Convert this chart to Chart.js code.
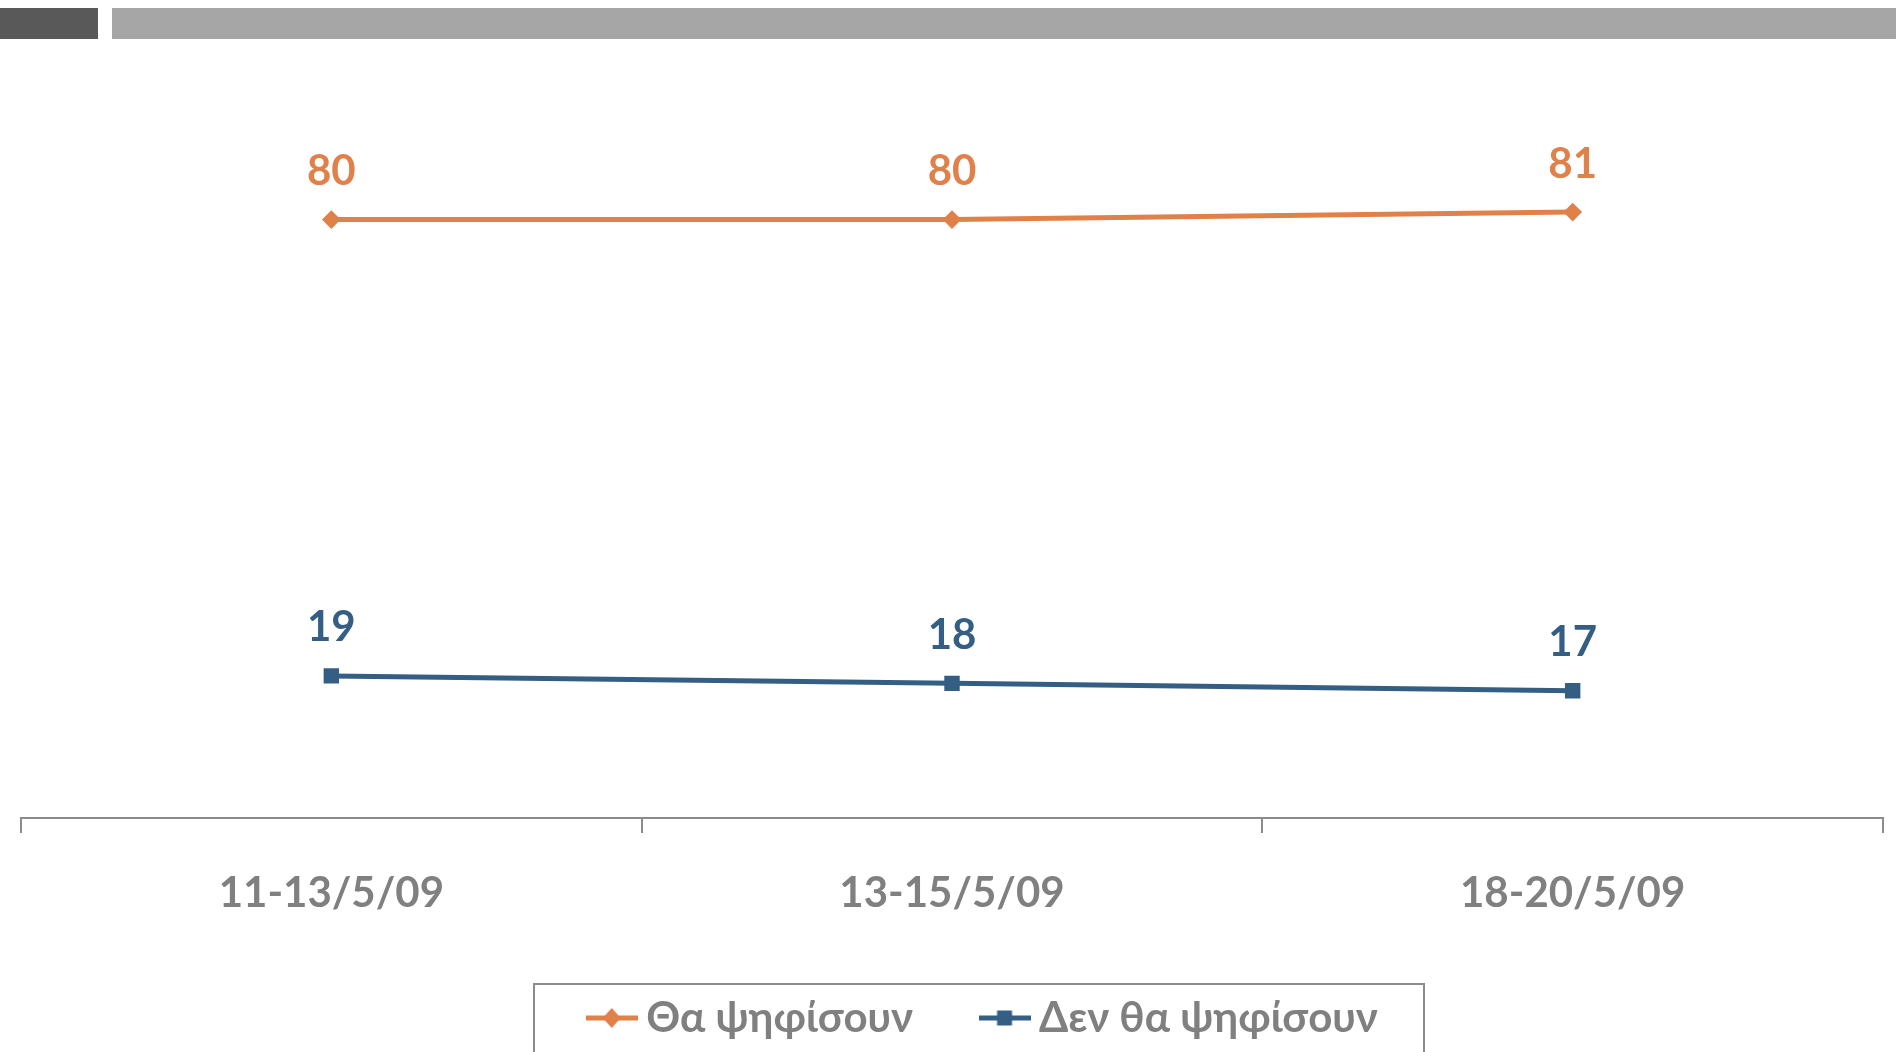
<!DOCTYPE html>
<html>
<head>
<meta charset="utf-8">
<script src="https://cdn.jsdelivr.net/npm/chart.js@4"></script>
<style>
  html, body { margin: 0; padding: 0; background: #fff; }
  #wrap { width: 1896px; height: 1052px; position: relative; }
</style>
</head>
<body>
<div id="wrap"><canvas id="lineChart"></canvas></div>
<script>
// data
const periods = ['11-13/5/09', '13-15/5/09', '18-20/5/09'];
const willVote = [80, 80, 81];
const wontVote = [19, 18, 17];
const seriesNames = ['Θα ψηφίσουν', 'Δεν θα ψηφίσουν'];

const ORANGE = '#E0814A';
const BLUE = '#345E84';
const GREY = '#808080';
const FONT = 'Lato, "Open Sans", sans-serif';

// little line+marker images for the legend
function legendMark(color, shape) {
  const c = document.createElement('canvas');
  c.width = 52; c.height = 24;
  const g = c.getContext('2d');
  g.fillStyle = color;
  g.fillRect(0, 9.5, 52, 5);
  g.beginPath();
  if (shape === 'diamond') {
    g.moveTo(26, 2); g.lineTo(35, 12); g.lineTo(26, 22); g.lineTo(17, 12);
  } else {
    g.rect(18.5, 4.5, 15, 15);
  }
  g.closePath();
  g.fill();
  return c;
}
const marks = [legendMark(ORANGE, 'diamond'), legendMark(BLUE, 'square')];

// grey strips at the top
const headerBars = {
  id: 'headerBars',
  beforeDraw(chart) {
    const ctx = chart.ctx;
    ctx.save();
    ctx.fillStyle = '#595959';
    ctx.fillRect(0, 8, 98, 31);
    ctx.fillStyle = '#A6A6A6';
    ctx.fillRect(112, 8, chart.width - 112, 31);
    ctx.restore();
  }
};

// value labels over each point
const valueLabels = {
  id: 'valueLabels',
  afterDatasetsDraw(chart) {
    const ctx = chart.ctx;
    ctx.save();
    ctx.font = 'bold 42px ' + FONT;
    ctx.textAlign = 'center';
    ctx.textBaseline = 'middle';
    chart.data.datasets.forEach((ds, i) => {
      ctx.fillStyle = ds.borderColor;
      chart.getDatasetMeta(i).data.forEach((pt, j) => {
        ctx.fillText(ds.data[j], pt.x, pt.y - 48);
      });
    });
    ctx.restore();
  }
};

// move legend a bit right and box it
const legendBox = {
  id: 'legendBox',
  afterLayout(chart) {
    chart.legend.left += 36;
    chart.legend.right += 36;
  },
  afterDraw(chart) {
    const lg = chart.legend;
    const cx = (lg.left + lg.right) / 2 - 9;
    const ctx = chart.ctx;
    ctx.save();
    ctx.strokeStyle = '#8C8C8C';
    ctx.lineWidth = 2;
    ctx.strokeRect(cx - 445, lg.top + 65, 890, 100);
    ctx.restore();
  }
};

const ctx = document.getElementById('lineChart').getContext('2d');
const lineChart = new Chart(ctx, {
  type: 'line',
  data: {
    labels: periods,
    datasets: [{
      label: seriesNames[0],
      data: willVote,
      borderColor: ORANGE,
      backgroundColor: ORANGE,
      borderWidth: 5,
      pointStyle: 'rectRot',
      pointRadius: 8,
      pointBorderWidth: 2,
      tension: 0
    }, {
      label: seriesNames[1],
      data: wontVote,
      borderColor: BLUE,
      backgroundColor: BLUE,
      borderWidth: 5,
      pointStyle: 'rect',
      pointRadius: 9.5,
      pointBorderWidth: 2,
      tension: 0
    }]
  },
  options: {
    responsive: true,
    maintainAspectRatio: false,
    animation: false,
    layout: { padding: { top: 70, left: 21, right: 13, bottom: 3 } },
    scales: {
      x: {
        offset: true,
        grid: { offset: true, drawOnChartArea: false, tickLength: 15, color: '#8C8C8C', lineWidth: 2 },
        border: { color: '#8C8C8C', width: 2 },
        ticks: { color: GREY, padding: 35, font: { family: FONT, size: 42, weight: 'bold' } },
        afterFit(scale) { scale.height = 101; }
      },
      y: {
        display: false,
        min: 0,
        max: 100
      }
    },
    plugins: {
      tooltip: { enabled: false },
      legend: {
        position: 'bottom',
        labels: {
          color: GREY,
          font: { family: FONT, size: 42, weight: 'bold' },
          padding: 78,
          usePointStyle: true,
          pointStyleWidth: 27,
          generateLabels(chart) {
            return Chart.defaults.plugins.legend.labels.generateLabels(chart).map((it, i) => {
              it.pointStyle = marks[i];
              return it;
            });
          }
        }
      }
    }
  },
  plugins: [headerBars, valueLabels, legendBox]
});
</script>
</body>
</html>
